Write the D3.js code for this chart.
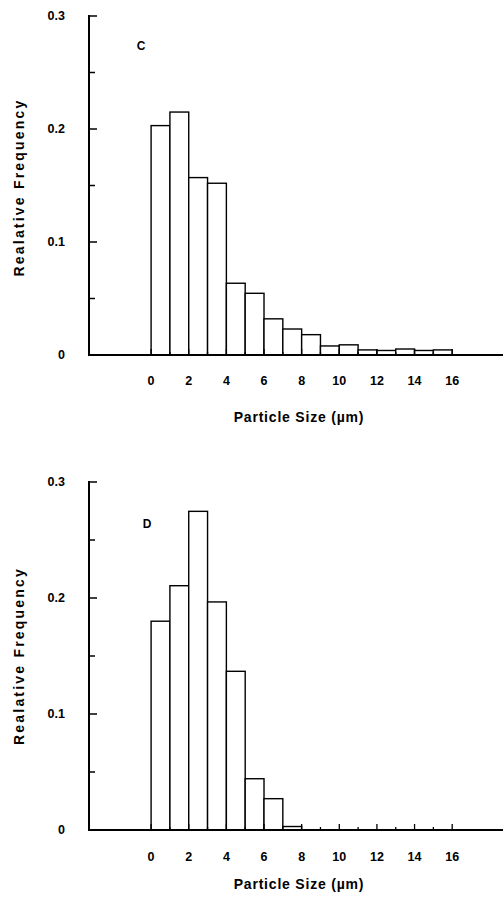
<!DOCTYPE html>
<html>
<head>
<meta charset="utf-8">
<script src="https://cdn.jsdelivr.net/npm/d3@7.9.0/dist/d3.min.js"></script>
<style>
  body { margin: 0; background: #fff; }
  svg { display: block; }
  text { font-family: "Liberation Sans", Arial, sans-serif; font-weight: bold; fill: #000; }
</style>
</head>
<body>
<svg width="503" height="898"></svg>
<script>
// bin starts (µm), bins are 1 µm wide
const binsC = d3.range(0, 16);
const freqC = [0.203, 0.215, 0.157, 0.152, 0.0635, 0.0546, 0.032, 0.023, 0.018, 0.008, 0.009, 0.0045, 0.004, 0.0053, 0.004, 0.0045];
const binsD = d3.range(0, 8);
const freqD = [0.180, 0.2106, 0.2747, 0.1966, 0.1368, 0.0442, 0.027, 0.003];
const xTickLabels = [0, 2, 4, 6, 8, 10, 12, 14, 16];
const yTickLabels = [0, 0.1, 0.2, 0.3];

const svg = d3.select('svg');

function drawPanel(cfg) {
  let x = d3.scaleLinear().domain([-3.3, 18.7]).range([89, 503]);
  let y = d3.scaleLinear().domain([0, 0.3]).range([cfg.base, cfg.top]);
  let g = svg.append('g');

  // bars
  cfg.bins.forEach((b, i) => {
    g.append('rect')
      .attr('x', x(b))
      .attr('y', y(cfg.freq[i]))
      .attr('width', x(b + 1) - x(b))
      .attr('height', y(0) - y(cfg.freq[i]))
      .attr('fill', '#fff')
      .attr('stroke', '#000')
      .attr('stroke-width', 1.4);
  });

  // x ticks, pointing up
  d3.range(0, 17).forEach((t) => {
    g.append('line')
      .attr('x1', x(t)).attr('x2', x(t))
      .attr('y1', y(0)).attr('y2', y(0) - (t % 2 === 0 ? 6 : 3))
      .attr('stroke', '#000').attr('stroke-width', 1.3);
  });

  // y ticks, pointing right
  d3.range(0, 7).forEach((k) => {
    let v = k * 0.05;
    g.append('line')
      .attr('x1', x(-3.3)).attr('x2', x(-3.3) + (k % 2 === 0 ? 8 : 6))
      .attr('y1', y(v)).attr('y2', y(v))
      .attr('stroke', '#000').attr('stroke-width', 1.5);
  });

  // axis lines
  g.append('line')
    .attr('x1', x(-3.3)).attr('x2', 503)
    .attr('y1', y(0)).attr('y2', y(0))
    .attr('stroke', '#000').attr('stroke-width', 2);
  g.append('line')
    .attr('x1', x(-3.3)).attr('x2', x(-3.3))
    .attr('y1', y(0.3) - 1).attr('y2', y(0) + 1)
    .attr('stroke', '#000').attr('stroke-width', 2);

  // tick labels
  xTickLabels.forEach((t) => {
    g.append('text')
      .attr('x', x(t)).attr('y', y(0) + cfg.xLabOff)
      .attr('text-anchor', 'middle')
      .attr('font-size', 12.5)
      .text(t);
  });
  yTickLabels.forEach((t) => {
    g.append('text')
      .attr('x', 65).attr('y', y(t) + 4)
      .attr('text-anchor', 'end')
      .attr('font-size', 12.5)
      .text(t === 0 ? '0' : t.toFixed(1));
  });

  // titles
  g.append('text')
    .attr('x', 299).attr('y', y(0) + cfg.titleOff)
    .attr('text-anchor', 'middle')
    .attr('font-size', 14)
    .attr('letter-spacing', 0.8)
    .text('Particle Size (µm)');
  g.append('text')
    .attr('transform', `translate(24, ${(cfg.top + cfg.base) / 2 + cfg.yTitleOff}) rotate(-90)`)
    .attr('text-anchor', 'middle')
    .attr('font-size', 14)
    .attr('letter-spacing', 2.2)
    .text('Realative Frequency');

  g.append('text')
    .attr('x', cfg.letterX).attr('y', cfg.letterY)
    .attr('text-anchor', 'middle')
    .attr('font-size', 12)
    .text(cfg.letter);
}

drawPanel({ bins: binsC, freq: freqC, top: 16, base: 355, xLabOff: 30, titleOff: 67, yTitleOff: 2, letter: 'C', letterX: 141, letterY: 50, });
drawPanel({ bins: binsD, freq: freqD, top: 482, base: 830, xLabOff: 31, titleOff: 59, yTitleOff: 0, letter: 'D', letterX: 147, letterY: 528 });
</script>
</body>
</html>
